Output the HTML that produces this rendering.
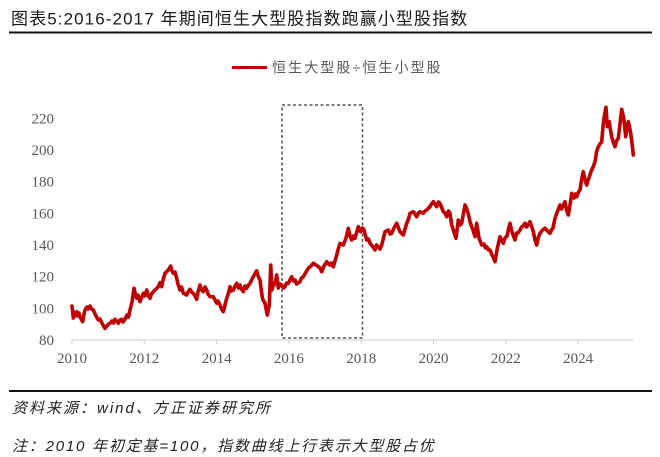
<!DOCTYPE html>
<html><head><meta charset="utf-8"><style>
html,body{margin:0;padding:0;background:#fff;}
body{width:660px;height:457px;position:relative;overflow:hidden;}
svg{position:absolute;left:0;top:0;}
</style></head><body>
<svg width="660" height="457" viewBox="0 0 660 457" xmlns="http://www.w3.org/2000/svg">
<rect width="660" height="457" fill="#fff"/>
<text x="11" y="24.5" font-family="'Liberation Sans','Noto Sans CJK SC',sans-serif" font-size="17" fill="#1a1a1a" letter-spacing="1.1">图表5:2016-2017 年期间恒生大型股指数跑赢小型股指数</text>
<line x1="9" y1="32.5" x2="652" y2="32.5" stroke="#111" stroke-width="2"/>
<line x1="232" y1="67.5" x2="267" y2="67.5" stroke="#c00000" stroke-width="3"/>
<text x="272" y="72.5" font-family="'Liberation Sans','Noto Sans CJK SC',sans-serif" font-size="14" fill="#595959" letter-spacing="2.1">恒生大型股÷恒生小型股</text>
<g font-family="'Liberation Serif',serif" font-size="15" fill="#595959" text-anchor="end">
<text x="54" y="123.5">220</text>
<text x="54" y="155">200</text>
<text x="54" y="186.7">180</text>
<text x="54" y="218.4">160</text>
<text x="54" y="250">140</text>
<text x="54" y="281.7">120</text>
<text x="54" y="313.4">100</text>
<text x="54" y="345">80</text>
</g>
<line x1="72" y1="340" x2="633" y2="340" stroke="#d0d0d0" stroke-width="1"/>
<g stroke="#d0d0d0" stroke-width="1">
<line x1="72" y1="340" x2="72" y2="344"/>
<line x1="144.3" y1="340" x2="144.3" y2="344"/>
<line x1="216.6" y1="340" x2="216.6" y2="344"/>
<line x1="288.9" y1="340" x2="288.9" y2="344"/>
<line x1="361.2" y1="340" x2="361.2" y2="344"/>
<line x1="433.5" y1="340" x2="433.5" y2="344"/>
<line x1="505.8" y1="340" x2="505.8" y2="344"/>
<line x1="578.1" y1="340" x2="578.1" y2="344"/>
</g>
<g font-family="'Liberation Serif',serif" font-size="15" fill="#595959" text-anchor="middle">
<text x="72" y="363">2010</text>
<text x="144.3" y="363">2012</text>
<text x="216.6" y="363">2014</text>
<text x="288.9" y="363">2016</text>
<text x="361.2" y="363">2018</text>
<text x="433.5" y="363">2020</text>
<text x="505.8" y="363">2022</text>
<text x="578.1" y="363">2024</text>
</g>
<rect x="282" y="105" width="80.5" height="233" fill="none" stroke="#555" stroke-width="1.5" stroke-dasharray="3,2.5"/>
<polyline fill="none" stroke="#c00000" stroke-width="3.6" stroke-linejoin="round" stroke-linecap="round" points="72,306 73.3,318 74,312 75,316 76.7,311.7 78,316 79,313 80,317 82.7,321.7 84,314 85,310 87,307 88,309 90,306 91.5,309 93.3,310 96,316 98.3,320 100,319 101.7,322.7 103,325 105,328.3 107,326 108.5,324 110,323.3 112,321 113.5,323 115,319.3 118.3,323.3 120,320 121.7,319.3 123,322 125,319.3 127,315 128.5,317 130,310 132,302 134,288.3 135.5,295 136.7,298.3 138,295 140,301.7 143.3,293.3 145,296 146.7,290 148,295 150,298.3 151.5,294 153.3,291.7 156,289 158.3,286.7 160,282.7 161.7,286.7 163,280 165,273.3 168.3,270 170.7,266 172,271 173.3,273.3 175,272 176.7,278.3 178,284 180,290 181.5,287 183.3,293.3 186.7,295 188,292 190,289.3 191.5,292 193.3,293.3 195,296 196.7,299.3 198,292 200,285 201.5,290 203.3,291.7 205,287 206.7,290 208,294 210,296.7 213.3,296.7 215,300 216.7,303.3 218,301 220,305 221.5,309 223.3,311.7 225,305 226.7,298.3 228.5,293 230,286.7 231.5,291 233.3,290 235,286 236.7,283.3 238.5,288 240,285 241.5,289 243.3,291.7 245,286 246.7,288.3 248.5,285 250,283.3 253.3,276.7 256.7,270.7 258,276 260,280 261.5,292 262.7,299.3 265,303.3 267.3,315 269.3,305 270.7,265 272,290 273,286 275,284 276.7,275 278.3,288 280,284 281.7,285 283.5,288 285,286.7 286.5,283 288.3,283.3 290,280 291.7,276.7 293.5,281 295,280 296.5,284 298,283 300,281.7 301.5,278 303.3,276.7 306,272 308.3,268.3 311,266 313.3,263.3 316,265 318.3,266.7 320,268 321.7,271.7 324,266 326.7,261.7 328.5,264 330,265 331.5,263 333.3,266.7 335,261 336.7,255 338.5,248 340,243.3 343.3,245 346,238 348.3,228.3 350,236 351.7,240 353.5,236 355,238.3 358.3,226.7 360.7,231.7 362.5,228 364,230 366.7,240 368.5,239 370,243.3 373,247 375,250 376.5,245 378.3,246.7 380,249 381.7,245 383.5,238 385,231.7 388.3,230 390,234 391.7,233.3 394,228 396.7,223.3 398.5,228 400,231.7 403.3,235 405,229 406.7,223.3 408.5,219 410,213.3 413.3,211.7 415,214 416.7,216.7 418.5,213 420,211.7 423.3,213.3 425,211 426.7,210 430,206.7 431.5,204 433.3,201.7 435,204 436.7,206.7 438.5,202 440,203.3 443.3,211.7 445,213 446.7,216.7 448.5,211 450,213.3 451.5,224 453.3,230 456,238.3 458.3,220 460,225 461.7,223.3 463.5,213 465,205 466.5,208 468.3,214 470,221.7 471.5,226 473,230 475,236.7 476.7,223.3 479,238 481.7,245 484,244 485.5,248 486.7,246.7 488.5,250 490,250 492,255 493.5,258 495,261.7 497,250 498.5,243 500,236.7 501.5,240 503.3,243.3 505,238 507,236 508.5,229 510,223.3 512,232 513.5,236 515,240 516.5,233 518,233 520,230 521.5,227 523,226 525,223.3 526.5,227 528,225 530,221.7 531.5,226 533.3,231.7 535,240 536.7,245 538.5,237 540,233.3 542.5,230 545,228.3 547.5,231 550,233.3 551.5,230 553,228 555,218.3 556.5,214 558,210 560,205 561.5,209 563,206 565,201.7 566.5,210 568.3,215 570,205 571.7,193.3 573,196 574,198 575.5,194 576.7,196.7 578.5,192 580,190 581.5,180 583.3,171.7 585,180 586.7,185 588,180 589,178 590.5,173 591.7,170 593.5,166 595,161.7 596.5,152 598.3,146.7 600,144 601.7,141.7 603.3,123.3 604.5,115 606,107.3 607.3,126.7 609.3,121.7 610.5,130 611.7,136.7 613.5,143 615,146.7 616.5,141 618.3,138.3 620,124 621.7,109.3 622.8,114 624,120 625.7,136.7 627,128 628.3,121.7 629.5,127 630.7,133.3 632,143 633.3,155"/>
<line x1="9" y1="391" x2="652" y2="391" stroke="#111" stroke-width="2"/>
<text x="12" y="413" font-family="'Liberation Sans','Noto Sans CJK SC',sans-serif" font-size="15" font-style="italic" fill="#222" letter-spacing="2">资料来源：wind、方正证券研究所</text>
<text x="12" y="451" font-family="'Liberation Sans','Noto Sans CJK SC',sans-serif" font-size="15" font-style="italic" fill="#222" letter-spacing="1.8">注：2010 年初定基=100，指数曲线上行表示大型股占优</text>
</svg>
</body></html>
